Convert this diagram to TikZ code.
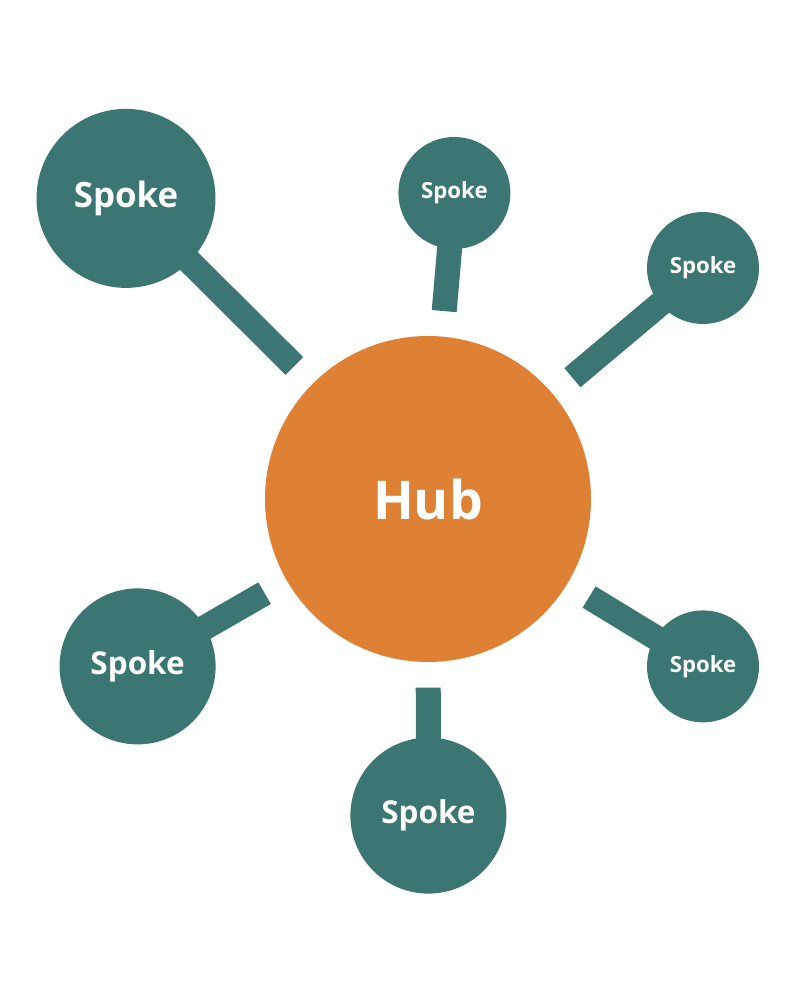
\documentclass[tikz,border=0pt]{standalone}
\usepackage{fontspec}
\setmainfont{Open Sans}
\usepackage{tikz}
\usetikzlibrary{positioning,backgrounds}
\definecolor{hubcol}{RGB}{222,129,52}
\definecolor{spokecol}{RGB}{60,118,115}

\begin{document}
\begin{tikzpicture}[
    hub/.style={circle,fill=hubcol,text=white,inner sep=0pt,outer sep=0pt,
      minimum size=8.15cm,font=\bfseries\fontsize{38}{40}\selectfont},
    spoke/.style={circle,fill=spokecol,text=white,inner sep=0pt,outer sep=0pt},
    large spoke/.style={spoke,minimum size=4.475cm,font=\bfseries\fontsize{24.8}{26}\selectfont},
    mid spoke/.style={spoke,minimum size=3.9cm,font=\bfseries\fontsize{22.4}{24}\selectfont},
    small spoke/.style={spoke,minimum size=2.8cm,font=\bfseries\fontsize{15.8}{17}\selectfont},
    link/.style={draw=spokecol,line width=0.625cm,shorten >=0.64cm}]
  \useasboundingbox (0,0) rectangle (20,25);
  \node[hub] (hub) at (10.7,12.525) {Hub};
  \node[large spoke] (S1) at (3.15,20.04) {Spoke};
  \node[small spoke] (S2) at (11.36,20.175) {Spoke};
  \node[small spoke] (S3) at (17.575,18.3) {Spoke};
  \node[mid spoke] (S4) at (3.44,8.34) {Spoke};
  \node[mid spoke] (S5) at (10.71,4.61) {Spoke};
  \node[small spoke] (S6) at (17.575,8.34) {Spoke};
  \begin{scope}[on background layer]
    \foreach \s in {S1,S2,S3,S4,S5,S6}
      \draw[link] (\s.center) -- (hub);
  \end{scope}
\end{tikzpicture}
\end{document}
